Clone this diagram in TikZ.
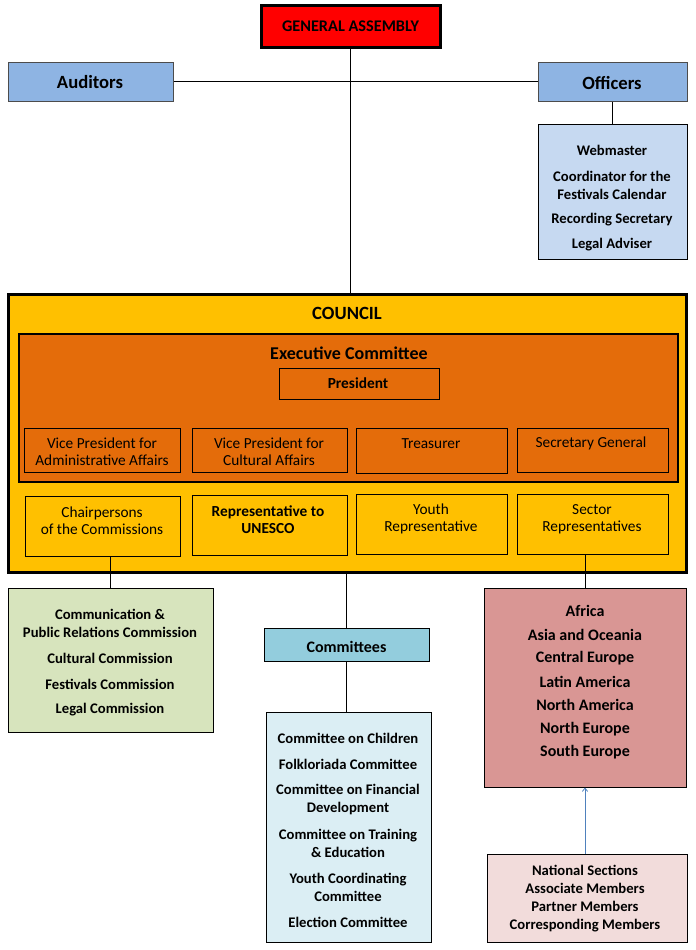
\documentclass[tikz,border=0pt]{standalone}
\usepackage{fontspec}
\setmainfont{Carlito}
\usetikzlibrary{fit,arrows.meta}
\definecolor{gared}{HTML}{FF0000}
\definecolor{offblue}{HTML}{8EB4E3}
\definecolor{offlight}{HTML}{C6D9F1}
\definecolor{councilc}{HTML}{FFC000}
\definecolor{execc}{HTML}{E46C0A}
\definecolor{commc}{HTML}{D7E4BD}
\definecolor{cmtc}{HTML}{93CDDD}
\definecolor{cmtlight}{HTML}{DBEEF4}
\definecolor{regc}{HTML}{D99694}
\definecolor{natc}{HTML}{F2DCDB}
\definecolor{arrowc}{HTML}{4F81BD}
\tikzset{
  box/.style={draw=black, line width=0.75pt, inner sep=0pt},
  txt/.style={font=\bfseries\fontsize{11}{13.5}\selectfont, align=center, inner sep=0pt},
  rtxt/.style={font=\fontsize{11.5}{12.75}\selectfont, align=center, inner sep=0pt},
  btxt/.style={font=\bfseries\fontsize{11}{12.75}\selectfont, align=center, inner sep=0pt},
  regtxt/.style={font=\bfseries\fontsize{12}{13}\selectfont, inner sep=0pt},
  head/.style={font=\bfseries\fontsize{14}{16}\selectfont, inner sep=0pt},
  conn/.style={draw=black, line width=0.75pt},
}
\begin{document}
\begin{tikzpicture}[x=0.75pt,y=-0.75pt]
\useasboundingbox (0,0) rectangle (696,950);
% boxes
\node[box, fill=gared, line width=2.25pt, fit={(261,5)(440,47)}] (ga) {};
\node[box, fill=offblue, draw=black!70, fit={(8,62)(173,101)}] (aud) {};
\node[box, fill=offblue, draw=black!70, fit={(538,62)(687,101)}] (off) {};
\node[box, fill=offlight, fit={(538,124)(687,259)}] (offlist) {};
\node[box, fill=councilc, line width=2.25pt, fit={(8,294)(686,572)}] (council) {};
\node[box, fill=execc, line width=1.5pt, fit={(19,334)(678,482)}] (exec) {};
\node[box, fill=execc, fit={(279,368)(439,399)}] (pres) {};
\node[box, fill=execc, fit={(24,428)(180,472)}] (vpa) {};
\node[box, fill=execc, fit={(192,428)(347,472)}] (vpc) {};
\node[box, fill=execc, fit={(356,428)(507,473)}] (treas) {};
\node[box, fill=execc, fit={(517,428)(668,472)}] (secg) {};
\node[box, fill=councilc, fit={(25,496)(180,556)}] (chair) {};
\node[box, fill=councilc, fit={(192,495)(347,555)}] (unesco) {};
\node[box, fill=councilc, fit={(356,494)(507,554)}] (youth) {};
\node[box, fill=councilc, fit={(517,494)(668,554)}] (sector) {};
\node[box, fill=commc, fit={(8,588)(213,732)}] (comm) {};
\node[box, fill=cmtc, fit={(264,628)(429,661)}] (cmt) {};
\node[box, fill=cmtlight, fit={(266,712)(431,942)}] (cmtlist) {};
\node[box, fill=regc, fit={(484,588)(686,787)}] (region) {};
\node[box, fill=natc, fit={(487,854)(687,942)}] (nat) {};
% connectors
\draw[conn] (ga.south) -- (ga.south |- council.north);
\draw[conn] (aud.east) -- (off.west);
\draw[conn] (off.south) -- (offlist.north);
\draw[conn] (comm.north) -- (comm.north |- chair.south);
\draw[conn] (council.south) -- (council.south -| cmt.north) -- (cmt.north);
\draw[conn] (cmt.south) -- (cmt.south |- cmtlist.north);
\draw[conn] (region.north) -- (region.north |- sector.south);
\draw[draw=arrowc, line width=0.6pt, -{Straight Barb[length=2.5pt,width=4pt]}] (region.south |- nat.north) -- (region.south);
% texts
\node[inner sep=0pt, font=\bfseries\fontsize{12.2}{14}\selectfont] (tga) at (350.5,26.5) {GENERAL ASSEMBLY};
\node[head] (taud) at (90,82.5) {Auditors};
\node[head] (toff) at (612,83.5) {Officers};
\node[txt] (o1) at (612,150) {Webmaster};
\node[txt] (o2) at (612,185) {Coordinator for the\\Festivals Calendar};
\node[txt] (o3) at (612,220) {Recording Secretary};
\node[txt] (o4) at (612,245) {Legal Adviser};
\node[head] (tcouncil) at (347,313) {COUNCIL};
\node[inner sep=0pt, font=\bfseries\fontsize{13.5}{16}\selectfont] (texec) at (349,353) {Executive Committee};
\node[inner sep=0pt, font=\bfseries\fontsize{11.5}{13}\selectfont] (tpres) at (358,383) {President};
\node[rtxt] (tvpa) at (102,451.5) {Vice President for\\Administrative Affairs};
\node[rtxt] (tvpc) at (269,451.5) {Vice President for\\Cultural Affairs};
\node[rtxt] (ttreas) at (431,444) {Treasurer};
\node[rtxt] (tsecg) at (591,443) {Secretary General};
\node[rtxt] (tchair) at (102,521) {Chairpersons\\of the Commissions};
\node[btxt, font=\bfseries\fontsize{11.5}{12.75}\selectfont] (tunesco) at (268,520) {Representative to\\UNESCO};
\node[rtxt] (tyouth) at (431,519) {Youth\\Representative};
\node[rtxt] (tsector) at (592,519) {Sector\\Representatives};
\node[txt] (c1) at (110,623) {Communication \&\\Public Relations Commission};
\node[txt] (c2) at (110,658) {Cultural Commission};
\node[txt] (c3) at (110,684) {Festivals Commission};
\node[txt] (c4) at (110,710) {Legal Commission};
\node[inner sep=0pt, font=\bfseries\fontsize{12}{14}\selectfont] (tcmt) at (346.5,647) {Committees};
\node[txt] (k1) at (348,738) {Committee on Children};
\node[txt] (k2) at (348,764) {Folkloriada Committee};
\node[txt] (k3) at (348,799) {Committee on Financial\\Development};
\node[txt] (k4) at (348,843) {Committee on Training\\\& Education};
\node[txt] (k5) at (348,887) {Youth Coordinating\\Committee};
\node[txt] (k6) at (348,922) {Election Committee};
\node[regtxt] (r1) at (585,611) {Africa};
\node[regtxt] (r2) at (585,635) {Asia and Oceania};
\node[regtxt] (r3) at (585,658) {Central Europe};
\node[regtxt] (r4) at (585,682) {Latin America};
\node[regtxt] (r5) at (585,705) {North America};
\node[regtxt] (r6) at (585,729) {North Europe};
\node[regtxt] (r7) at (585,752) {South Europe};
\node[txt] (tnat) at (585,899) {National Sections\\Associate Members\\Partner Members\\Corresponding Members};
\end{tikzpicture}
\end{document}
